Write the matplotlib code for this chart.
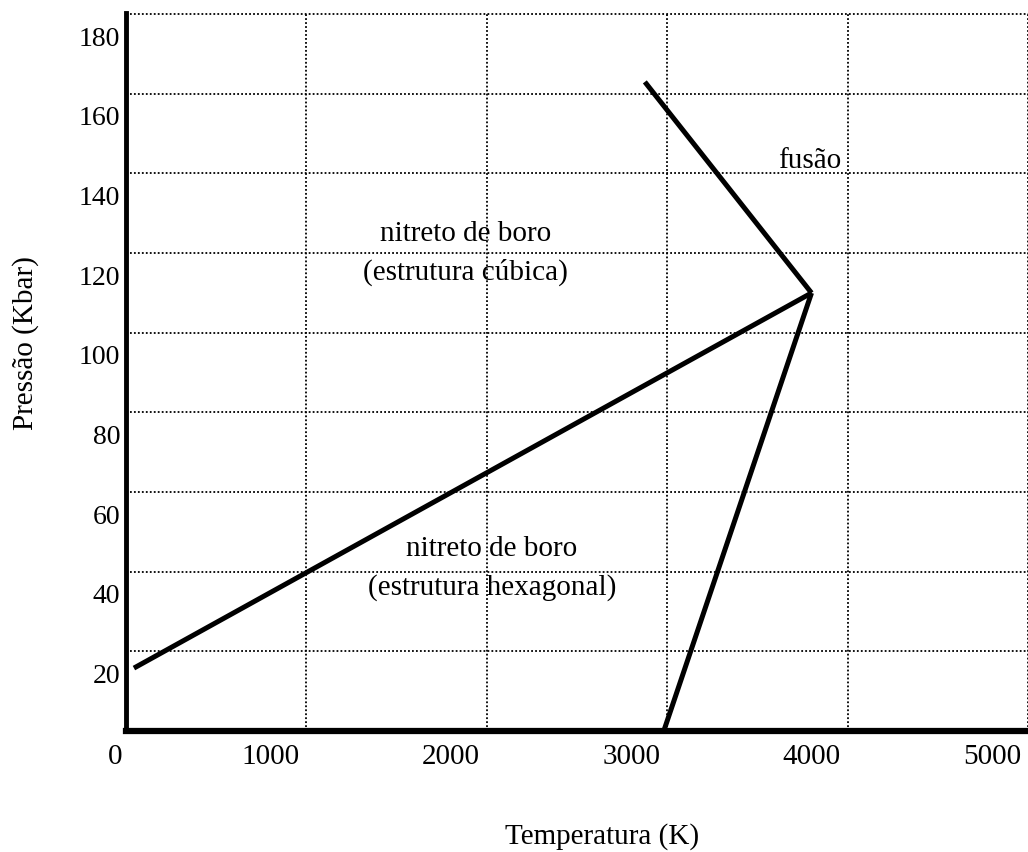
import matplotlib
matplotlib.use("Agg")
import matplotlib.pyplot as plt
from matplotlib.transforms import ScaledTranslation

# Data (temperature K, pressure kbar)
hex_cub_T = [44, 3800]
hex_cub_P = [15.8, 110]
cub_liq_T = [2876, 3800]
cub_liq_P = [163, 110]
hex_liq_T = [3800, 2981]
hex_liq_P = [110, 0]

x_ticks = [0, 1000, 2000, 3000, 4000, 5000]
x_ticklabels = ["0", "1000", "2000", "3000", "4000", "5000"]
y_ticks = [20, 40, 60, 80, 100, 120, 140, 160, 180]
y_ticklabels = ["20", "40", "60", "80", "100", "120", "140", "160", "180"]

region_labels = [
    ("nitreto de boro", 1880, 124.8),
    ("(estrutura cúbica)", 1880, 115.2),
    ("fusão", 3789, 143.2),
    ("nitreto de boro", 2024, 45.7),
    ("(estrutura hexagonal)", 2030, 36.0),
]

plt.rcParams['font.family'] = ['Liberation Serif', 'DejaVu Serif']

fig = plt.figure(figsize=(10.28, 8.52), dpi=100)
ax = fig.add_axes([126 / 1028, (852 - 731) / 852, 902 / 1028, (731 - 13) / 852])

ax.set_xlim(0, 4990)
ax.set_ylim(0, 180.3)

ax.set_xticks(x_ticks)
ax.set_xticklabels(x_ticklabels)
ax.set_yticks(y_ticks)
ax.set_yticklabels(y_ticklabels)
ax.tick_params(axis='both', length=0, labelsize=20, colors='black')
ax.tick_params(axis='x', pad=9, labelsize=21)
ax.tick_params(axis='y', pad=4)

ax.grid(True, color='black', linestyle=(0, (1, 1.2)), linewidth=1.3)
ax.set_axisbelow(True)

for s in ['top', 'right']:
    ax.spines[s].set_visible(False)
ax.spines['left'].set_linewidth(3.5)
ax.spines['bottom'].set_linewidth(4.5)

lw = 3.6
ax.plot(hex_cub_T, hex_cub_P, color='black', linewidth=lw, solid_capstyle='butt')
ax.plot(cub_liq_T, cub_liq_P, color='black', linewidth=lw, solid_capstyle='butt')
ax.plot(hex_liq_T, hex_liq_P, color='black', linewidth=lw, solid_capstyle='butt')

for txt, x, y in region_labels:
    ax.text(x, y, txt, ha='center', va='center', fontsize=21, color='black')

ax.set_xlabel("Temperatura (K)", fontsize=21)
ax.xaxis.set_label_coords((602 - 126) / 902, (731 - 837) / 718)
ax.xaxis.label.set_va('center')
ax.set_ylabel("Pressão (Kbar)", fontsize=21)
ax.yaxis.set_label_coords((26 - 126) / 902, (731 - 343) / 718)
ax.yaxis.label.set_va('center')
ax.yaxis.label.set_ha('center')

fig.canvas.draw()
# Offset tick labels as in the original scan
for i, lab in enumerate(ax.get_xticklabels()):
    dx = -11 if i == 0 else -36
    lab.set_transform(lab.get_transform() + ScaledTranslation(dx / 100, 0, fig.dpi_scale_trans))
for lab in ax.get_yticklabels():
    lab.set_transform(lab.get_transform() + ScaledTranslation(0, -22 / 100, fig.dpi_scale_trans))

fig.savefig("out.png", dpi=100)
